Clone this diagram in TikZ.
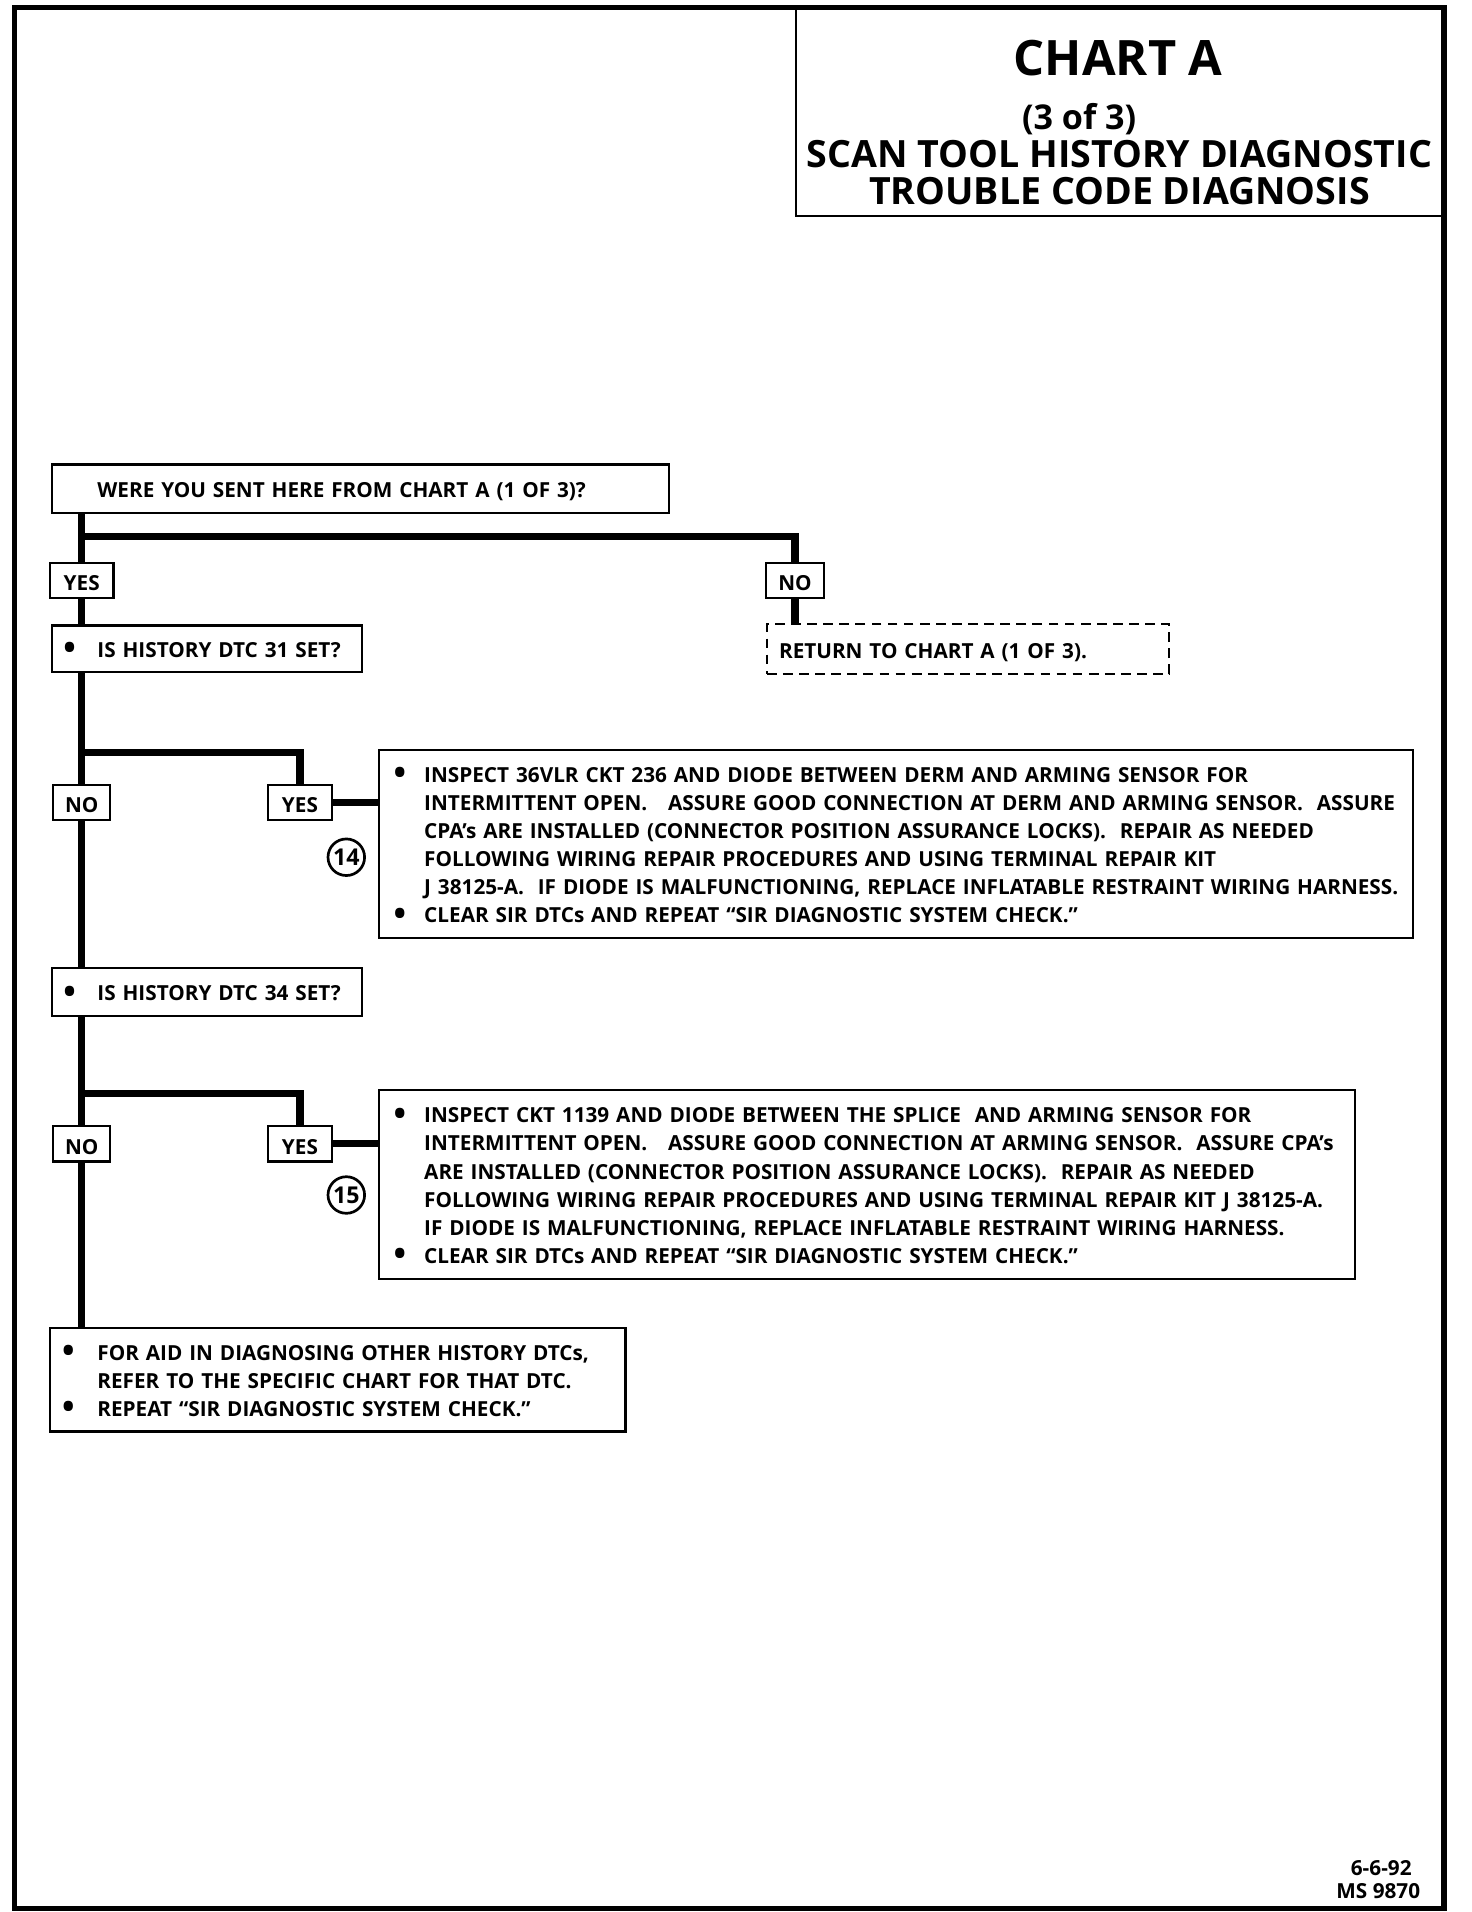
\documentclass[tikz,border=0pt]{standalone}
\usepackage{fontspec}
\usepackage{graphicx}
\setmainfont{Open Sans}
\newcommand{\boxfont}{\fontsize{8.5}{11.5}\selectfont\bfseries}
\newcommand{\bl}{\raisebox{-1.1pt}{\scalebox{1.6}{\textbullet}}}
\newcommand{\lowered}[1]{\raisebox{-1.2pt}[\height][\depth]{#1}}
\begin{document}
\begin{tikzpicture}[x=0.5pt,y=-0.5pt,
  every node/.style={font=\boxfont},
  box/.style={draw, line width=0.9pt, anchor=north west, inner xsep=0pt, inner ysep=0pt, align=left, fill=white},
  tag/.style={draw, line width=0.9pt, inner sep=0pt, minimum height=14.5pt, fill=white},
  flow/.style={line width=3pt},
  num/.style={draw, circle, line width=1.1pt, minimum size=15pt, inner sep=0pt, font=\fontsize{9.5}{10}\selectfont\bfseries}
]
\useasboundingbox (0,0) rectangle (1207,1568);
% outer frame
\draw[line width=2.3pt] (12,6) rectangle (1184,1565);
% title block
\node[draw, line width=0.9pt, anchor=north west, minimum width=266pt, minimum height=85pt, inner sep=0pt] (title) at (652,6) {};
\node[font=\fontsize{20}{24}\selectfont\bfseries, anchor=base] (t1) at (917,62) {CHART A};
\node[font=\fontsize{14}{16}\selectfont\bfseries, anchor=base] (t2) at (885,106) {(3 of 3)};
\node[font=\fontsize{15.4}{16}\selectfont\bfseries, anchor=base] (t3) at (918,137) {SCAN TOOL HISTORY DIAGNOSTIC};
\node[font=\fontsize{15.4}{16}\selectfont\bfseries, anchor=base] (t4) at (918,168) {TROUBLE CODE DIAGNOSIS};

% boxes
\node[box, text width=253pt, minimum height=20pt] (q0) at (42,380)
  {\noindent\lowered{\hspace*{18.5pt}WERE YOU SENT HERE FROM CHART A (1 OF 3)?}};
\node[tag, minimum width=26pt] (yes1) at (67,476) {\lowered{YES}};
\node[tag, minimum width=23.5pt] (no1) at (652,476) {\lowered{NO}};
\node[box, text width=165pt, minimum height=20.5pt, dash pattern=on 4pt off 2.6pt] (ret) at (628,511)
  {\noindent\lowered{\hspace*{5pt}RETURN TO CHART A (1 OF 3).}};
\node[box, text width=127pt, minimum height=19pt] (q31) at (42,512)
  {\noindent\lowered{\begin{tabular}{@{\hspace{4.5pt}}p{14pt}@{}l@{}}\bl & IS HISTORY DTC 31 SET?\end{tabular}}};
\node[tag, minimum width=23.5pt] (no2) at (67,658) {\lowered{NO}};
\node[tag, minimum width=26pt] (yes2) at (246,658) {\lowered{YES}};
\node[num] (c14) at (284,703) {14};
\node[box, text width=424pt, minimum height=77pt] (big1) at (310,614)
  {\noindent\lowered{\begin{tabular}{@{\hspace{6pt}}p{12.5pt}@{}l@{}}
  \bl & INSPECT 36VLR CKT 236 AND DIODE BETWEEN DERM AND ARMING SENSOR FOR\\
      & INTERMITTENT OPEN.\ \ \ ASSURE GOOD CONNECTION AT DERM AND ARMING SENSOR.\ \ ASSURE\\
      & CPA’s ARE INSTALLED (CONNECTOR POSITION ASSURANCE LOCKS).\ \ REPAIR AS NEEDED\\
      & FOLLOWING WIRING REPAIR PROCEDURES AND USING TERMINAL REPAIR KIT\\
      & J 38125-A.\ \ IF DIODE IS MALFUNCTIONING, REPLACE INFLATABLE RESTRAINT WIRING HARNESS.\\
  \bl & CLEAR SIR DTCs AND REPEAT “SIR DIAGNOSTIC SYSTEM CHECK.”
  \end{tabular}}};
\node[box, text width=127pt, minimum height=19.5pt] (q34) at (42,793)
  {\noindent\lowered{\begin{tabular}{@{\hspace{4.5pt}}p{14pt}@{}l@{}}\bl & IS HISTORY DTC 34 SET?\end{tabular}}};
\node[tag, minimum width=23.5pt] (no3) at (67,938) {\lowered{NO}};
\node[tag, minimum width=26pt] (yes3) at (246,938) {\lowered{YES}};
\node[num] (c15) at (284,980) {15};
\node[box, text width=400pt, minimum height=77.5pt] (big2) at (310,893)
  {\noindent\lowered{\begin{tabular}{@{\hspace{6pt}}p{12.5pt}@{}l@{}}
  \bl & INSPECT CKT 1139 AND DIODE BETWEEN THE SPLICE\ \ AND ARMING SENSOR FOR\\
      & INTERMITTENT OPEN.\ \ \ ASSURE GOOD CONNECTION AT ARMING SENSOR.\ \ ASSURE CPA’s\\
      & ARE INSTALLED (CONNECTOR POSITION ASSURANCE LOCKS).\ \ REPAIR AS NEEDED\\
      & FOLLOWING WIRING REPAIR PROCEDURES AND USING TERMINAL REPAIR KIT J 38125-A.\\
      & IF DIODE IS MALFUNCTIONING, REPLACE INFLATABLE RESTRAINT WIRING HARNESS.\\
  \bl & CLEAR SIR DTCs AND REPEAT “SIR DIAGNOSTIC SYSTEM CHECK.”
  \end{tabular}}};
\node[box, text width=236pt, minimum height=42.5pt] (fin) at (40,1088)
  {\noindent\lowered{\begin{tabular}{@{\hspace{5pt}}p{14.5pt}@{}l@{}}
  \bl & FOR AID IN DIAGNOSING OTHER HISTORY DTCs,\\
      & REFER TO THE SPECIFIC CHART FOR THAT DTC.\\
  \bl & REPEAT “SIR DIAGNOSTIC SYSTEM CHECK.”
  \end{tabular}}};

% junction points
\coordinate (b1) at (67,440);
\coordinate (b2) at (67,617);
\coordinate (b3) at (67,897);

% connectors
\draw[flow] (q0.south -| yes1) -- (yes1.north);
\draw[flow] (b1) -| (no1.north);
\draw[flow] (no1.south) -- (no1.south |- ret.north);
\draw[flow] (yes1.south) -- (yes1.south |- q31.north);
\draw[flow] (q31.south -| no2) -- (no2.north);
\draw[flow] (b2) -| (yes2.north);
\draw[flow] (yes2.east) -- (yes2.east -| big1.west);
\draw[flow] (no2.south) -- (no2.south |- q34.north);
\draw[flow] (q34.south -| no3) -- (no3.north);
\draw[flow] (b3) -| (yes3.north);
\draw[flow] (yes3.east) -- (yes3.east -| big2.west);
\draw[flow] (no3.south) -- (no3.south |- fin.north);

% date stamp
\node[font=\fontsize{8.5}{10}\selectfont\bfseries, anchor=base east, inner sep=0pt] (d1) at (1158,1538) {6-6-92};
\node[font=\fontsize{8.5}{10}\selectfont\bfseries, anchor=base east, inner sep=0pt] (d2) at (1165,1557) {MS 9870};
\end{tikzpicture}
\end{document}
